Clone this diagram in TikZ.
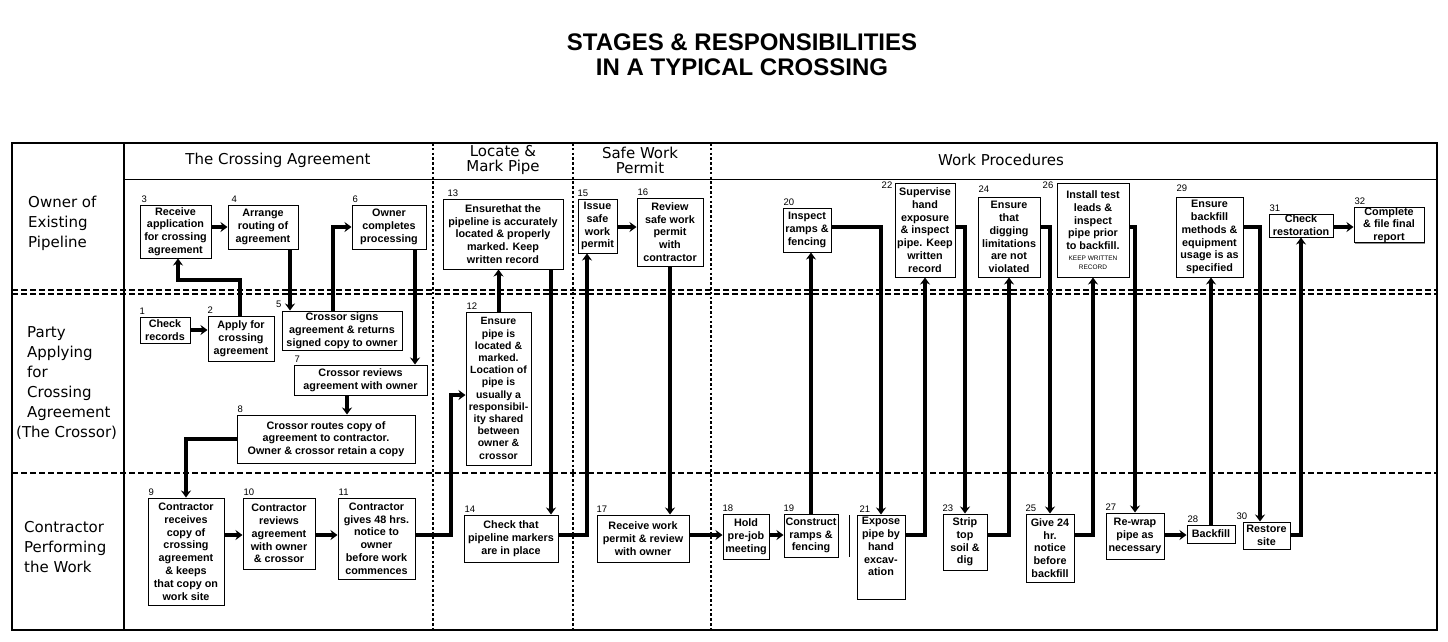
\documentclass[tikz,border=0pt]{standalone}
\usepackage{fontspec}
\setmainfont{Liberation Sans}
\newfontfamily\lanefont{DejaVu Sans}
\usetikzlibrary{arrows.meta,shadows}
\begin{document}
\begin{tikzpicture}[x=1pt,y=-1pt,
  box/.style={draw, line width=1pt, fill=white, inner sep=0pt, align=center,
    font=\bfseries\fontsize{10.8}{12.8}\selectfont,
    drop shadow={shadow xshift=1.2pt, shadow yshift=-1.2pt, fill=black!45, opacity=1}},
  corners/.style n args={4}{minimum width={(#3-#1)*1pt}, minimum height={(#4-#2)*1pt},
    at={({(#1+#3)/2},{(#2+#4)/2})}},
  num/.style={inner sep=0pt, anchor=south west, yshift=2pt, font=\fontsize{9.5}{10}\selectfont},
  hdr/.style={font=\lanefont\fontsize{15}{15}\selectfont, align=center, inner sep=0pt},
  lane/.style={font=\lanefont\fontsize{15}{20}\selectfont, align=left, inner sep=0pt, anchor=west},
  conn/.style={line width=4pt, line join=miter, -{Stealth[length=7pt,width=10pt]}},
  lanedash/.style={line width=1.3pt, dash pattern=on 6pt off 3pt},
  coldot/.style={line width=2.6pt, dash pattern=on 2.6pt off 2.2pt},
]
\useasboundingbox (0,0) rectangle (1448,641);

% title
\node[font=\bfseries\fontsize{24}{25}\selectfont, align=center] (title) at (742,55)
  {STAGES \& RESPONSIBILITIES\\IN A TYPICAL CROSSING};

% grid
\draw[lanedash] (12,290) -- (1437,290);
\draw[lanedash] (12,294) -- (1437,294);
\draw[lanedash] (12,473) -- (1437,473);
\draw[coldot] (433,143) -- (433,630);
\draw[coldot] (573,143) -- (573,630);
\draw[coldot] (711,143) -- (711,630);
\draw[line width=1.2pt] (124,143) -- (124,630);
\draw[line width=1pt] (124,179) -- (1437,179);
\draw[line width=2pt] (12,143) rectangle (1437,630);

% headers
\node[hdr] (h1) at (278,160) {The Crossing Agreement};
\node[hdr] (h2) at (503,160) {Locate \&\\Mark Pipe};
\node[hdr] (h3) at (640,160) {Safe Work\\Permit};
\node[hdr] (h4) at (1001,160) {Work Procedures};

% lanes
\node[lane] (l1) at (28,223) {Owner of\\Existing\\Pipeline};
\node[lane] (l2) at (27,383) {Party\\Applying\\for\\Crossing\\Agreement\\\hspace*{-11pt}(The Crossor)};
\node[lane] (l3) at (24,547) {Contractor\\Performing\\the Work};

% boxes
\node[box, corners={140}{317}{190}{343}] (b1) {Check\\records};
\node[box, corners={208}{316}{274}{361}] (b2) {Apply for\\crossing\\agreement};
\node[box, corners={140}{205}{211}{258}] (b3) {Receive\\application\\for crossing\\agreement};
\node[box, corners={228}{205}{298}{249}] (b4) {Arrange\\routing of\\agreement};
\node[box, corners={282}{311}{402}{350}] (b5) {Crossor signs\\agreement \& returns\\signed copy to owner};
\node[box, corners={352}{205}{426}{249}] (b6) {Owner\\completes\\processing};
\node[box, corners={294}{365}{427}{395}] (b7) {Crossor reviews\\agreement with owner};
\node[box, corners={237}{415}{415}{463}] (b8) {Crossor routes copy of\\agreement to contractor.\\Owner \& crossor retain a copy};
\node[box, corners={148}{498}{224}{605}] (b9) {Contractor\\receives\\copy of\\crossing\\agreement\\\& keeps\\that copy on\\work site};
\node[box, corners={243}{498}{315}{569}] (b10) {Contractor\\reviews\\agreement\\with owner\\\& crossor};
\node[box, corners={338}{498}{415}{579}] (b11) {Contractor\\gives 48 hrs.\\notice to\\owner\\before work\\commences};
\node[box, corners={466}{312}{531}{465}, font=\bfseries\fontsize{10.5}{12.2}\selectfont] (b12) {Ensure\\pipe is\\located \&\\marked.\\Location of\\pipe is\\usually a\\responsibil-\\ity shared\\between\\owner \&\\crossor};
\node[box, corners={443}{199}{563}{269}] (b13) {Ensurethat the\\pipeline is accurately\\located \& properly\\marked. Keep\\written record};
\node[box, corners={464}{515}{558}{562}] (b14) {Check that\\pipeline markers\\are in place};
\node[box, corners={578}{199}{617}{253}] (b15) {Issue\\safe\\work\\permit};
\node[box, corners={637}{198}{703}{266}] (b16) {Review\\safe work\\permit\\with\\contractor};
\node[box, corners={597}{515}{689}{562}] (b17) {Receive work\\permit \& review\\with owner};
\node[box, corners={723}{514}{769}{559}] (b18) {Hold\\pre-job\\meeting};
\node[box, corners={784}{514}{838}{557}] (b19) {Construct\\ramps \&\\fencing};
\node[box, corners={783}{208}{831}{252}] (b20) {Inspect\\ramps \&\\fencing};
\node[box, corners={857}{515}{905}{599}] (b21) {Expose\\pipe by\\hand\\excav-\\ation\\[8pt]~};
\node[box, corners={895}{183}{955}{277}] (b22) {Supervise\\hand\\exposure\\\& inspect\\pipe. Keep\\written\\record};
\node[box, corners={943}{514}{987}{570}] (b23) {Strip\\top\\soil \&\\dig};
\node[box, corners={978}{197}{1040}{277}] (b24) {Ensure\\that\\digging\\limitations\\are not\\violated};
\node[box, corners={1026}{514}{1074}{582}] (b25) {Give 24\\hr.\\notice\\before\\backfill};
\node[box, corners={1057}{183}{1129}{277}] (b26) {Install test\\leads \&\\inspect\\pipe prior\\to backfill.\\[-2pt]{\mdseries\fontsize{6.5}{8}\selectfont KEEP WRITTEN}\\[-4pt]{\mdseries\fontsize{6.5}{8}\selectfont RECORD}};
\node[box, corners={1106}{513}{1164}{559}] (b27) {Re-wrap\\pipe as\\necessary};
\node[box, corners={1187}{525}{1235}{543}] (b28) {Backfill};
\node[box, corners={1176}{197}{1243}{277}] (b29) {Ensure\\backfill\\methods \&\\equipment\\usage is as\\specified};
\node[box, corners={1243}{522}{1290}{549}] (b30) {Restore\\site};
\node[box, corners={1269}{214}{1333}{237}] (b31) {Check\\restoration};
\node[box, corners={1354}{208}{1424}{242}] (b32) {Complete\\\& file final\\report};

% stray separator line
\draw[line width=1pt] (849,515) -- (849,557);

% numbers
\node[num] (n1) at (b1.north west) {1};
\node[num] (n2) at (b2.north west) {2};
\node[num] (n3) at ([xshift=2pt]b3.north west) {3};
\node[num] (n4) at ([xshift=4pt]b4.north west) {4};
\node[num, anchor=south east] (n5) at ([yshift=1pt]b5.north west) {5};
\node[num] (n6) at ([xshift=1pt]b6.north west) {6};
\node[num] (n7) at ([xshift=1pt]b7.north west) {7};
\node[num] (n8) at ([xshift=1pt]b8.north west) {8};
\node[num] (n9) at ([xshift=1pt]b9.north west) {9};
\node[num] (n10) at ([xshift=1pt]b10.north west) {10};
\node[num] (n11) at ([xshift=1pt]b11.north west) {11};
\node[num] (n12) at ([xshift=1pt]b12.north west) {12};
\node[num] (n13) at ([xshift=5pt]b13.north west) {13};
\node[num] (n14) at ([xshift=1pt]b14.north west) {14};
\node[num] (n15) at (b15.north west) {15};
\node[num] (n16) at ([xshift=1pt]b16.north west) {16};
\node[num] (n17) at (b17.north west) {17};
\node[num] (n18) at (b18.north west) {18};
\node[num] (n19) at (b19.north west) {19};
\node[num] (n20) at ([xshift=1pt]b20.north west) {20};
\node[num] (n21) at ([xshift=3pt]b21.north west) {21};
\node[num, anchor=north east, yshift=-1pt] (n22) at ([xshift=-2pt]b22.north west) {22};
\node[num] (n23) at (b23.north west) {23};
\node[num, yshift=2pt] (n24) at ([xshift=1pt]b24.north west) {24};
\node[num] (n25) at (b25.north west) {25};
\node[num, anchor=north east, yshift=-1pt] (n26) at ([xshift=-3pt]b26.north west) {26};
\node[num] (n27) at (b27.north west) {27};
\node[num] (n28) at ([xshift=1pt]b28.north west) {28};
\node[num, yshift=3pt] (n29) at ([xshift=1pt]b29.north west) {29};
\node[num] (n30) at ([xshift=-6pt]b30.north west) {30};
\node[num] (n31) at ([xshift=1pt]b31.north west) {31};
\node[num] (n32) at ([xshift=1pt]b32.north west) {32};

% helper coordinates
\coordinate (rowA) at (0,330);
\coordinate (rowU) at (0,227);
\coordinate (rowL) at (0,535);
\coordinate (k23a) at (240,280);
\coordinate (k23b) at (178,280);
\coordinate (k45) at (290,0);
\coordinate (k56) at (333,0);
\coordinate (k67) at (415,0);
\coordinate (k78) at (347,0);
\coordinate (k1112) at (451,395);
\coordinate (k1314) at (551,0);
\coordinate (k1415) at (587,0);
\coordinate (k2930) at (1260,0);

% connectors
\draw[conn] (b1.east |- rowA) -- (b2.west |- rowA);
\draw[conn] (b2.north -| k23a) -- (k23a) -- (k23b) -- (b3.south -| k23b);
\draw[conn] (b3.east |- rowU) -- (b4.west |- rowU);
\draw[conn] (b4.south -| k45) -- (b5.north -| k45);
\draw[conn] (b5.north -| k56) |- (b6.west);
\draw[conn] (b6.south -| k67) -- (b7.north -| k67);
\draw[conn] (b7.south -| k78) -- (b8.north -| k78);
\draw[conn] (b8.west) -| (b9.north);
\draw[conn] (b9.east |- rowL) -- (b10.west |- rowL);
\draw[conn] (b10.east |- rowL) -- (b11.west |- rowL);
\draw[conn] (b11.east |- rowL) -| (k1112) -- (b12.west |- k1112);
\draw[conn] (b12.north) -- (b12.north |- b13.south);
\draw[conn] (b13.south -| k1314) -- (b14.north -| k1314);
\draw[conn] (b14.east |- rowL) -| (b15.south -| k1415);
\draw[conn] (b15.east |- rowU) -- (b16.west |- rowU);
\draw[conn] (b16.south) -- (b16.south |- b17.north);
\draw[conn] (b17.east |- rowL) -- (b18.west |- rowL);
\draw[conn] (b18.east |- rowL) -- (b19.west |- rowL);
\draw[conn] (b19.north) -- (b19.north |- b20.south);
\draw[conn] (b20.east |- rowU) -| (b21.north);
\draw[conn] (b21.east |- rowL) -| (b22.south);
\draw[conn] (b22.east |- rowU) -| (b23.north);
\draw[conn] (b23.east |- rowL) -| (b24.south);
\draw[conn] (b24.east |- rowU) -| (b25.north);
\draw[conn] (b25.east |- rowL) -| (b26.south);
\draw[conn] (b26.east |- rowU) -| (b27.north);
\draw[conn] (b27.east |- rowL) -- (b28.west |- rowL);
\draw[conn] (b28.north) -- (b28.north |- b29.south);
\draw[conn] (b29.east |- rowU) -| (b30.north -| k2930);
\draw[conn] (b30.east |- rowL) -| (b31.south);
\draw[conn] (b31.east |- rowU) -- (b32.west |- rowU);
\end{tikzpicture}
\end{document}
